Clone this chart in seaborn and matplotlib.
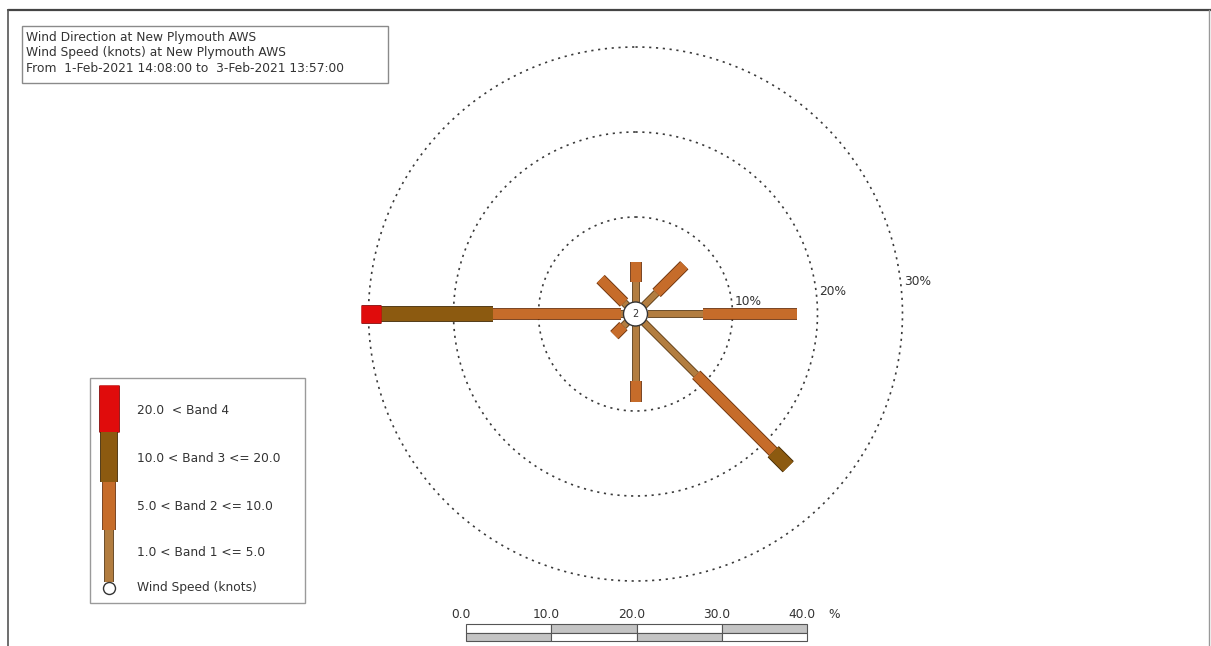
import numpy as np
import pandas as pd
import matplotlib
matplotlib.use("Agg")
import matplotlib.pyplot as plt
import matplotlib.patheffects as pe
from matplotlib.patches import Circle, Rectangle
from matplotlib.lines import Line2D
import seaborn as sns

# wind rose data: % of time per direction and per speed band
directions = ["N", "NE", "E", "SE", "S", "SW", "W", "NW"]
dir_deg = [0, 45, 90, 135, 180, 225, 270, 315]
band1 = [2.4, 2.1, 6.5, 8.7, 6.5, 0.6, 0.3, 0.5]
band2 = [2.3, 4.6, 11.1, 12.8, 2.4, 1.5, 15.1, 3.9]
band3 = [0.0, 0.0, 0.0, 2.5, 0.0, 0.0, 13.1, 0.0]
band4 = [0.0, 0.0, 0.0, 0.0, 0.0, 0.0, 2.4, 0.0]
calm_pct = 2
rings = [10, 20, 30]
band_labels = ["20.0  < Band 4", "10.0 < Band 3 <= 20.0",
               "5.0 < Band 2 <= 10.0", "1.0 < Band 1 <= 5.0"]
scale_ticks = [0, 10, 20, 30, 40]
title_lines = ["Wind Direction at New Plymouth AWS",
               "Wind Speed (knots) at New Plymouth AWS",
               "From  1-Feb-2021 14:08:00 to  3-Feb-2021 13:57:00"]

sns.set_style("white")
plt.rcParams["font.family"] = ["DejaVu Sans"]
TXT = "#333333"
FS = 8.8

# band styles: (width px, face, edge)
styles = [(6, "#b27d40", "#5e3e18"),
          (10, "#c66c2a", "#6e3510"),
          (14, "#8c5a10", "#442b04"),
          (17, "#e00c0c", "#8a0a0a")]

W, H = 1211, 646
fig = plt.figure(figsize=(W / 100, H / 100), dpi=100)

def lw_pt(px):
    return px * 72 / 100

def seg(ax, x, y, st):
    w, fc, ec = st
    ax.plot(x, y, color=fc, lw=lw_pt(w), solid_capstyle="butt", zorder=3,
            path_effects=[pe.Stroke(linewidth=lw_pt(w) + 1.3, foreground=ec), pe.Normal()])

# ---- polar rose ----
cx, cy = 635.5, 314
px_per_pct = 8.5
calm_r = 12
rmax = 33
R = calm_r + px_per_pct * rmax
ax = fig.add_axes([(cx - R) / W, (H - cy - R) / H, 2 * R / W, 2 * R / H], projection="polar")
ax.set_theta_zero_location("N")
ax.set_theta_direction(-1)

theta = np.linspace(0, 2 * np.pi, 400)
ring_df = pd.DataFrame({"theta": np.tile(theta, len(rings)),
                        "r": np.repeat(rings, len(theta)),
                        "ring": np.repeat(rings, len(theta))})
sns.lineplot(data=ring_df, x="theta", y="r", units="ring", estimator=None, sort=False,
             color="#3a3a3a", lw=1.2, linestyle=(0, (1.3, 2.8)), ax=ax)

for deg, vals in zip(dir_deg, zip(band1, band2, band3, band4)):
    th = np.deg2rad(deg)
    start = 0.0
    for v, st in zip(vals, styles):
        if v <= 0:
            continue
        seg(ax, [th, th], [start, start + v], st)
        start += v

for ring in rings:
    ax.annotate(f"{ring}%", xy=(np.deg2rad(83.5), ring), xytext=(3, 2),
                textcoords="offset pixels", ha="left", va="center",
                fontsize=FS, color=TXT)

ax.set_ylim(0, rmax)
ax.set_rorigin(-calm_r / px_per_pct)
ax.set_xlabel("")
ax.set_ylabel("")
ax.axis("off")

ax.add_patch(Circle((0.5, 0.5), calm_r / (2 * R), transform=ax.transAxes,
                    fc="white", ec="#333333", lw=1.0, zorder=6, clip_on=False))
ax.text(0.5, 0.5, str(calm_pct), transform=ax.transAxes, ha="center", va="center",
        fontsize=7, color=TXT, zorder=7)

# ---- title box ----
fig.add_artist(Rectangle((22 / W, 1 - 83 / H), 366 / W, 57 / H, transform=fig.transFigure,
                         fill=False, ec="#8a8a8a", lw=1.0))
for i, line in enumerate(title_lines):
    fig.text(26 / W, 1 - (37 + 15.5 * i) / H, line, ha="left", va="center",
             fontsize=FS, color=TXT)

# ---- legend box ----
fig.add_artist(Rectangle((90 / W, 1 - 603 / H), 215 / W, 225 / H, transform=fig.transFigure,
                         fill=False, ec="#9a9a9a", lw=1.0))
lax = fig.add_axes([90 / W, 1 - 603 / H, 215 / W, 225 / H])
lax.set_xlim(90, 305)
lax.set_ylim(603, 378)
lax.axis("off")
leg_y = [(385, 432), (432, 482), (482, 530), (530, 582)]
leg_text_y = [411, 459, 507, 553]
for k, (st, lab) in enumerate(zip(styles[::-1], band_labels)):
    w, fc, ec = st
    seg(lax, [108.5, 108.5], list(leg_y[k]), (w + 2, fc, ec))
    lax.text(137, leg_text_y[k], lab, ha="left", va="center", fontsize=FS, color=TXT)
lax.plot([108.5], [588], marker="o", ms=lw_pt(12), mfc="white", mec="#333333", mew=1.0, zorder=6)
lax.text(137, 588, "Wind Speed (knots)", ha="left", va="center", fontsize=FS, color=TXT)

# ---- scale bar ----
sax = fig.add_axes([466 / W, (H - 641) / H, 341 / W, 17 / H])
sax.set_xlim(0, 40)
sax.set_ylim(0, 2)
sax.axis("off")
for i in range(len(scale_ticks) - 1):
    top_c = "white" if i % 2 == 0 else "#c4c4c4"
    bot_c = "#c4c4c4" if i % 2 == 0 else "white"
    sax.barh(1.5, 10, left=scale_ticks[i], height=1, color=top_c, ec="#555555", lw=0.8, clip_on=False)
    sax.barh(0.5, 10, left=scale_ticks[i], height=1, color=bot_c, ec="#555555", lw=0.8, clip_on=False)
for t in scale_ticks:
    sax.annotate(f"{t:.1f}", xy=(t, 2), xytext=(-5, 3), textcoords="offset pixels",
                 ha="center", va="bottom", fontsize=FS, color=TXT)
sax.annotate("%", xy=(40, 2), xytext=(27, 3), textcoords="offset pixels",
             ha="center", va="bottom", fontsize=FS, color=TXT)

# ---- outer frame ----
fig.add_artist(Line2D([8 / W, 1], [1 - 10 / H, 1 - 10 / H], color="#444444", lw=1.6))
fig.add_artist(Line2D([8 / W, 8 / W], [0, 1 - 10 / H], color="#555555", lw=1.2))
fig.add_artist(Line2D([1209 / W, 1209 / W], [0, 1 - 10 / H], color="#999999", lw=1.0))

fig.savefig("out.png", dpi=100, facecolor="white")
